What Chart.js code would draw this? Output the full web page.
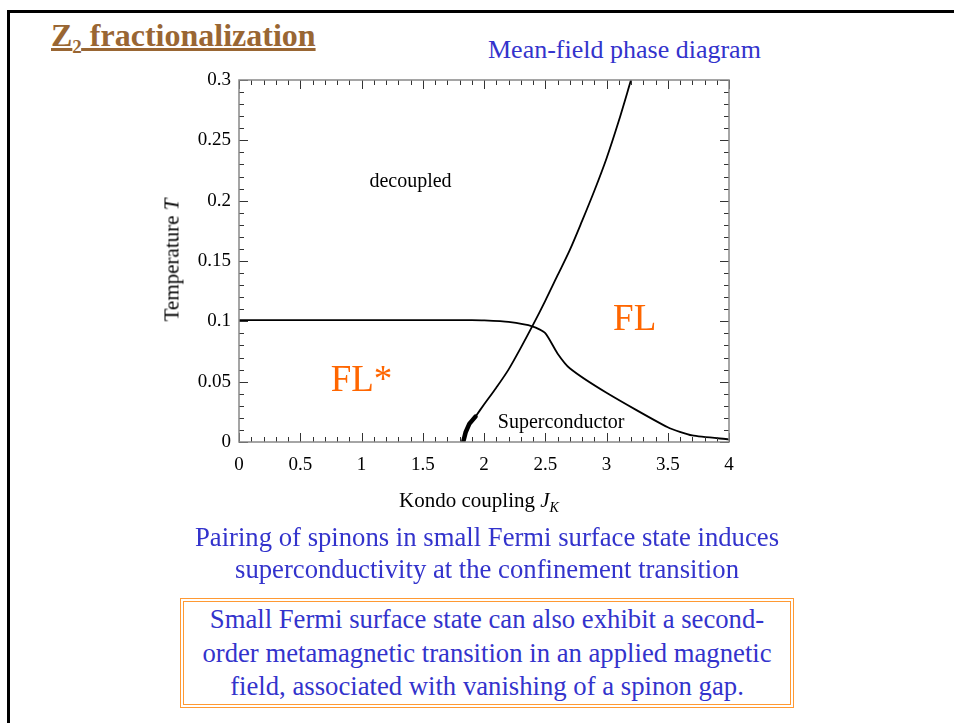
<!DOCTYPE html>
<html lang="en">
<head>
  <meta charset="UTF-8">
  <title>Z2 fractionalization - Mean-field phase diagram</title>
  <script src="https://cdn.jsdelivr.net/npm/chart.js"></script>
  <style>
    * { box-sizing: border-box; margin: 0; padding: 0; }
    body { width: 954px; height: 723px; background: #fff; overflow: hidden; position: relative;
           font-family: 'Liberation Serif', 'Times New Roman', serif; }
    .slide { position: absolute; left: 7px; top: 10px; width: 1000px; height: 800px;
             border-top: 3px solid #000; border-left: 3px solid #000; }
    .title { position: absolute; left: 51px; top: 17px; font-size: 32px; font-weight: bold;
             color: #996633; text-decoration: underline; text-decoration-thickness: 3px; white-space: nowrap; }
    .title sub { font-size: 19px; }
    .subtitle { position: absolute; left: 488px; top: 35px; font-size: 26px; color: #3333cc; white-space: nowrap; }
    .chart-box { position: absolute; left: 150px; top: 60px; width: 600px; height: 470px; }
    .ytitle { position: absolute; left: 172px; top: 260px; font-size: 21px; white-space: nowrap;
              transform: translate(-50%, -50%) rotate(-90deg); }
    .xtitle { position: absolute; left: 479px; top: 502px; font-size: 21px; white-space: nowrap;
              transform: translate(-50%, -50%); }
    .xtitle sub { font-size: 14px; font-style: italic; }
    .note { position: absolute; left: 0; width: 974px; text-align: center; font-size: 26.7px;
            color: #3333cc; line-height: 32px; top: 521px; }
    .boxed { position: absolute; left: 180px; top: 598px; width: 614px; height: 110px;
             border: 4px double #ff9933; text-align: center; font-size: 26.7px; line-height: 33.5px;
             color: #3333cc; padding-top: 1px; }
  </style>
</head>
<body>
  <div class="slide"></div>
  <div class="title">Z<sub>2</sub> fractionalization</div>
  <div class="subtitle">Mean-field phase diagram</div>
  <div class="chart-box"><canvas id="phaseChart"></canvas></div>
  <div class="ytitle">Temperature <i>T</i></div>
  <div class="xtitle">Kondo coupling <i>J</i><sub>K</sub></div>
  <div class="note">Pairing of spinons in small Fermi surface state induces<br>superconductivity at the confinement transition</div>
  <div class="boxed">Small Fermi surface state can also exhibit a second-<br>order metamagnetic transition in an applied magnetic<br>field, associated with vanishing of a spinon gap.</div>

  <script>
    // data
    var kondoX = [0, 0.5, 1, 1.5, 1.9, 2.0, 2.2, 2.4, 2.5, 2.6, 2.7, 3.0, 3.5, 3.7, 4.0];
    var kondoT = [0.101, 0.101, 0.101, 0.101, 0.101, 0.1008, 0.0995, 0.0957, 0.0902, 0.0734, 0.0611, 0.0408, 0.0122, 0.0054, 0.0022];

    var scX = [1.93, 2.0, 2.1, 2.2, 2.3, 2.4, 2.5, 2.6, 2.7, 2.8, 2.9, 3.0, 3.1, 3.2];
    var scT = [0.021, 0.031, 0.045, 0.060, 0.078, 0.097, 0.117, 0.138, 0.159, 0.183, 0.208, 0.235, 0.266, 0.300];

    var edgeX = [1.83, 1.85, 1.88, 1.93];
    var edgeT = [0.0, 0.008, 0.015, 0.021];

    var regionNames = ['decoupled', 'FL', 'FL*', 'Superconductor'];
    var regionX = [1.40, 3.23, 1.0, 2.63];
    var regionT = [0.2155, 0.101, 0.0506, 0.0157];
    var regionColor = ['#000', '#ff6600', '#ff6600', '#000'];
    var regionSize = [20, 37, 37, 20];

    var xMajor = [0, 0.5, 1, 1.5, 2, 2.5, 3, 3.5, 4];
    var yMajor = [0, 0.05, 0.1, 0.15, 0.2, 0.25, 0.3];

    function pts(xs, ys) { return xs.map(function (x, i) { return { x: x, y: ys[i] }; }); }
    function isMajor(list, v) { return list.some(function (m) { return Math.abs(m - v) < 1e-6; }); }

    // inward ticks on all four sides + region labels
    var frameTicks = {
      id: 'frameTicks',
      afterDraw: function (chart) {
        var ctx = chart.ctx, a = chart.chartArea, sx = chart.scales.x, sy = chart.scales.y;
        ctx.save();
        ctx.strokeStyle = '#333';
        ctx.lineWidth = 1;
        sx.ticks.forEach(function (t) {
          var p = Math.round(sx.getPixelForValue(t.value)) + 0.5;
          var len = isMajor(xMajor, t.value) ? 9 : 5;
          ctx.beginPath();
          ctx.moveTo(p, a.bottom); ctx.lineTo(p, a.bottom - len);
          ctx.moveTo(p, a.top); ctx.lineTo(p, a.top + len);
          ctx.stroke();
        });
        sy.ticks.forEach(function (t) {
          var p = Math.round(sy.getPixelForValue(t.value)) + 0.5;
          var len = isMajor(yMajor, t.value) ? 9 : 5;
          ctx.beginPath();
          ctx.moveTo(a.left, p); ctx.lineTo(a.left + len, p);
          ctx.moveTo(a.right, p); ctx.lineTo(a.right - len, p);
          ctx.stroke();
        });
        ctx.strokeStyle = '#888';
        ctx.lineWidth = 1.5;
        ctx.strokeRect(a.left, a.top, a.right - a.left, a.bottom - a.top);

        ctx.textAlign = 'center';
        ctx.textBaseline = 'middle';
        regionNames.forEach(function (name, i) {
          ctx.font = regionSize[i] + 'px "Liberation Serif", serif';
          ctx.fillStyle = regionColor[i];
          ctx.fillText(name, sx.getPixelForValue(regionX[i]), sy.getPixelForValue(regionT[i]));
        });
        ctx.restore();
      }
    };

    var tickFont = { family: '"Liberation Serif", serif', size: 19 };

    new Chart(document.getElementById('phaseChart'), {
      type: 'scatter',
      data: {
        datasets: [
          { data: pts(kondoX, kondoT), showLine: true, borderColor: '#000', borderWidth: 1.8, pointRadius: 0, tension: 0.2 },
          { data: pts(scX, scT), showLine: true, borderColor: '#000', borderWidth: 1.8, pointRadius: 0, tension: 0.3 },
          { data: pts(edgeX, edgeT), showLine: true, borderColor: '#000', borderWidth: 4.5, pointRadius: 0, borderCapStyle: 'round' }
        ]
      },
      options: {
        responsive: true,
        maintainAspectRatio: false,
        animation: false,
        layout: { padding: { top: 20, right: 21, left: 0, bottom: 0 } },
        plugins: { legend: { display: false }, tooltip: { enabled: false } },
        scales: {
          x: {
            type: 'linear', min: 0, max: 4,
            grid: { display: false, drawTicks: false },
            border: { display: false },
            ticks: {
              stepSize: 0.1, autoSkip: false, maxRotation: 0, padding: 12, color: '#000', font: tickFont,
              callback: function (v) { return isMajor(xMajor, v) ? String(+v.toFixed(1)) : ''; }
            },
            afterFit: function (s) { s.height = 88; }
          },
          y: {
            type: 'linear', min: 0, max: 0.3,
            grid: { display: false, drawTicks: false },
            border: { display: false },
            ticks: {
              stepSize: 0.01, autoSkip: false, padding: 8, color: '#000', font: tickFont,
              callback: function (v) { return isMajor(yMajor, v) ? String(+v.toFixed(2)) : ''; }
            },
            afterFit: function (s) { s.width = 89; }
          }
        }
      },
      plugins: [frameTicks]
    });
  </script>
</body>
</html>
